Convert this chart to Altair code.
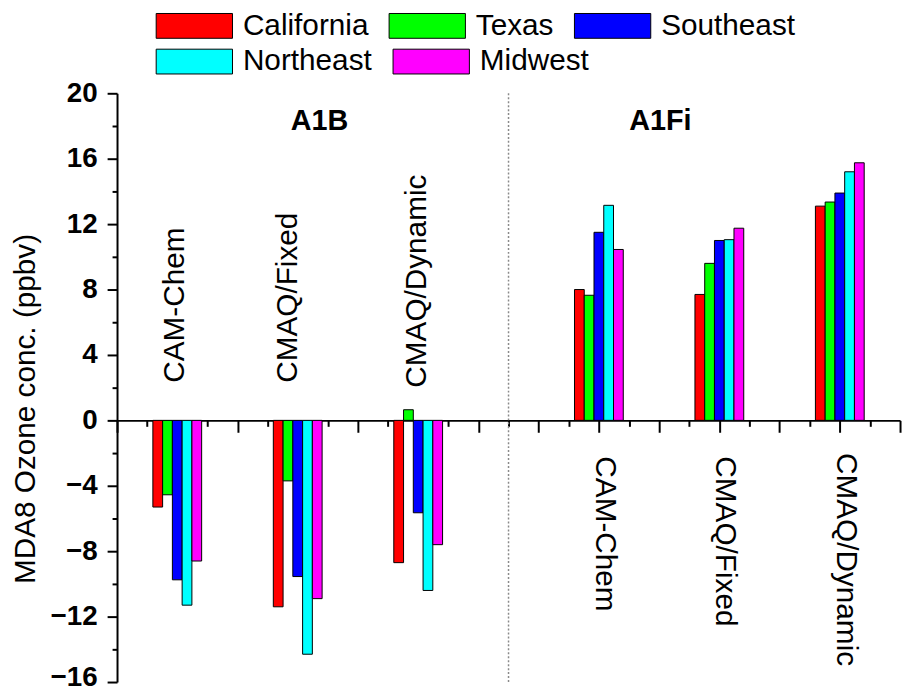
import altair as alt
import pandas as pd

# ---- data ----
regions = ["California", "Texas", "Southeast", "Northeast", "Midwest"]
region_colors = ["#FF0000", "#00FF00", "#0000FF", "#00FFFF", "#FF00FF"]
models = ["CAM-Chem", "CMAQ/Fixed", "CMAQ/Dynamic"]
scenarios = ["A1B", "A1Fi"]

a1b_cam_chem = [-5.3, -4.55, -9.75, -11.3, -8.6]
a1b_cmaq_fixed = [-11.4, -3.7, -9.55, -14.3, -10.9]
a1b_cmaq_dynamic = [-8.7, 0.65, -5.65, -10.4, -7.6]
a1fi_cam_chem = [8.0, 7.65, 11.5, 13.15, 10.45]
a1fi_cmaq_fixed = [7.7, 9.6, 11.0, 11.05, 11.75]
a1fi_cmaq_dynamic = [13.1, 13.35, 13.9, 15.2, 15.75]

# group positions on the (unlabelled) x axis, 0..13
group_centers = [1, 3, 5, 8, 10, 12]
divider_x = [6.5]
# annotation anchors
model_label_x = [0.97, 2.84, 4.98, 8.1, 10.1, 12.1]
model_label_y = [2.3, 2.3, 2.0, -2.2, -2.2, -2.0]
scenario_label_x = [3.36, 9.02]
scenario_label_y = [18.33, 18.33]

bar_w = 0.162
W, H = 790, 594
y_min, y_max = -16, 20
FONT = "Liberation Sans"

series = [a1b_cam_chem, a1b_cmaq_fixed, a1b_cmaq_dynamic,
          a1fi_cam_chem, a1fi_cmaq_fixed, a1fi_cmaq_dynamic]
rows = []
for g, vals in enumerate(series):
    for i, v in enumerate(vals):
        left = group_centers[g] + (i - 2.5) * bar_w
        rows.append({"scenario": scenarios[g // 3], "model": models[g % 3],
                     "region": regions[i], "value": v,
                     "x0": left, "x1": left + bar_w, "base": 0})
df = pd.DataFrame(rows)

xscale = alt.Scale(domain=[0, 13], nice=False, zero=False)
yscale = alt.Scale(domain=[y_min, y_max], nice=False, zero=False)

xaxis = alt.Axis(
    values=[k * 0.5 for k in range(27)], labels=False, title=None,
    offset=-H * (0 - y_min) / (y_max - y_min),
    tickSize={"condition": {"test": "datum.value % 1 === 0", "value": 12}, "value": 6},
    domainWidth=2, tickWidth=2, grid=False,
)
yaxis = alt.Axis(
    values=list(range(-16, 21, 2)),
    labelExpr="datum.value % 4 === 0 ? datum.label : ''",
    tickSize={"condition": {"test": "datum.value % 4 === 0", "value": 10}, "value": 5},
    labelOffset={"condition": {"test": "datum.value === -16", "value": -4}, "value": 0},
    labelFontSize=28, labelFontWeight="bold", labelPadding=10, labelOverlap=False,
    labelFont=FONT, labelColor="black",
    title="MDA8 Ozone conc. (ppbv)", titleFontSize=30, titleFontWeight="normal",
    titleFont=FONT, titleColor="black",
    titleAngle=270, titleX=-83, titleY=318, titleAlign="center", titleBaseline="alphabetic",
    domainWidth=2, tickWidth=2, grid=False,
)


def X(field):
    return alt.X(field, scale=xscale, axis=xaxis)


def Y(field):
    return alt.Y(field, scale=yscale, axis=yaxis)


def make_legend(ly):
    return alt.Legend(
        title=None, orient="none", legendX=39, legendY=ly,
        direction="horizontal",
        symbolType="M-1,-0.325L1,-0.325L1,0.325L-1,0.325Z", symbolSize=5929,
        symbolStrokeColor="black", symbolStrokeWidth=1, symbolOpacity=1,
        labelFontSize=30, labelFont=FONT, labelColor="black", labelOffset=10,
        columnPadding=18, padding=0, labelLimit=500,
    )


row1 = regions[:3]
row2 = regions[3:]

bars_row1 = alt.Chart(df[df.region.isin(row1)]).mark_rect(
    stroke="black", strokeWidth=1, opacity=1
).encode(
    x=X("x0:Q"), x2="x1:Q", y=Y("value:Q"), y2="base:Q",
    color=alt.Color("region:N", scale=alt.Scale(domain=row1, range=region_colors[:3]),
                    legend=make_legend(-107)),
)
bars_row2 = alt.Chart(df[df.region.isin(row2)]).mark_rect(
    stroke="black", strokeWidth=1, opacity=1
).encode(
    x=X("x0:Q"), x2="x1:Q", y=Y("value:Q"), y2="base:Q",
    color=alt.Color("region:N", scale=alt.Scale(domain=row2, range=region_colors[3:]),
                    legend=make_legend(-71)),
)

divider = alt.Chart(pd.DataFrame({"x": divider_x})).mark_rule(
    color="#8a8a8a", strokeDash=[2, 2], strokeWidth=1.5
).encode(x=X("x:Q"))

lab = pd.DataFrame({"text": models * 2, "x": model_label_x, "y": model_label_y,
                    "side": ["A1B"] * 3 + ["A1Fi"] * 3})
lab_up = alt.Chart(lab[lab.side == "A1B"]).mark_text(
    angle=270, align="left", baseline="middle", fontSize=30, font=FONT, color="black"
).encode(x=X("x:Q"), y=Y("y:Q"), text="text:N")
lab_down = alt.Chart(lab[lab.side == "A1Fi"]).mark_text(
    angle=90, align="left", baseline="middle", fontSize=30, font=FONT, color="black"
).encode(x=X("x:Q"), y=Y("y:Q"), text="text:N")

scen = pd.DataFrame({"text": scenarios, "x": scenario_label_x, "y": scenario_label_y})
scen_txt = alt.Chart(scen).mark_text(
    align="center", baseline="middle", fontSize=29, fontWeight="bold", font=FONT, color="black"
).encode(x=X("x:Q"), y=Y("y:Q"), text="text:N")

chart = alt.layer(divider, bars_row1, bars_row2, lab_up, lab_down, scen_txt).resolve_scale(
    color="independent"
).properties(
    width=W, height=H,
    autosize=alt.AutoSizeParams(type="none"),
    padding={"left": 110, "top": 83, "right": 4, "bottom": 7},
).configure_view(stroke=None).configure_axis(
    domainColor="black", tickColor="black"
)

chart.save("out.html", embed_options={"renderer": "svg", "actions": False})
